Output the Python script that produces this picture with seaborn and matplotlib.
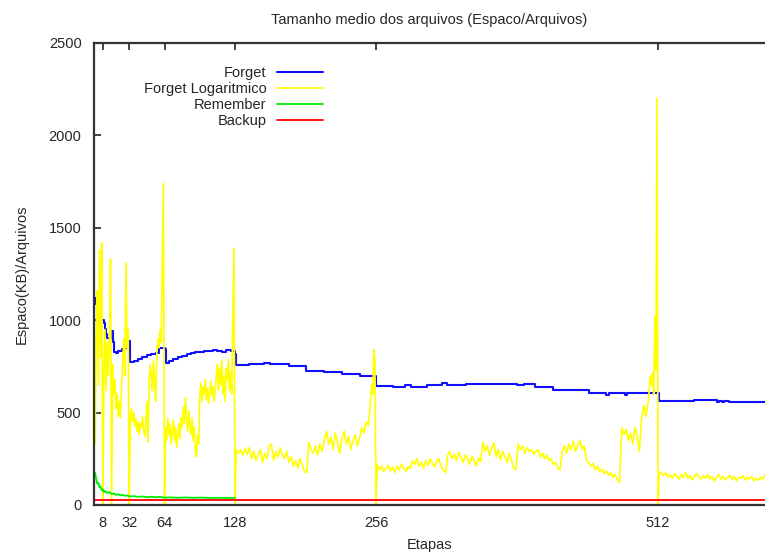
import matplotlib
matplotlib.use("Agg")
import matplotlib.pyplot as plt
import seaborn as sns
import pandas as pd

# ---- data -------------------------------------------------------------
# Forget: step levels (value holds until the next etapa)
forget_etapas = [1, 2, 3, 4, 5, 9, 10, 11, 12, 16, 17, 18, 20, 22, 25, 28, 32, 33,
                 36, 40, 44, 48, 52, 56, 59, 64, 65, 68, 72, 76, 80, 84, 88, 92,
                 96, 100, 104, 108, 112, 116, 120, 124, 128, 129, 141, 154, 160,
                 177, 192, 209, 225, 241, 256, 271, 282, 288, 302, 316, 320, 338,
                 384, 390, 400, 417, 449, 465, 467, 482, 484, 513, 545, 565, 567,
                 570, 572, 576, 611]
forget_valores = [1120, 1090, 1050, 1020, 1000, 985, 950, 925, 905, 940, 880, 830,
                  825, 835, 845, 850, 885, 775, 780, 790, 800, 810, 815, 825, 850,
                  845, 770, 780, 790, 800, 805, 815, 820, 830, 828, 835, 832, 838,
                  835, 830, 838, 832, 815, 757, 763, 770, 763, 752, 725, 720, 709,
                  698, 644, 638, 649, 640, 649, 660, 652, 655, 650, 655, 638, 622,
                  606, 596, 606, 596, 606, 563, 568, 557, 565, 557, 565, 557, 557]

# Forget Logaritmico
log_etapas = (
    list(range(1, 129))
    + list(range(129, 250, 2))
    + [251, 252, 253, 254, 255, 256]
    + list(range(257, 504, 2))
    + [505, 506, 507, 508, 509, 510, 511, 512]
    + list(range(513, 612, 2))
)
log_valores = [
    # 1 - 32
    330, 900, 1160, 650, 1380, 800, 1420, 0,
    700, 950, 620, 880, 700, 900, 1330, 0,
    760, 600, 680, 520, 600, 480, 560, 470, 640, 760, 900, 700, 1310, 850, 950, 0,
    # 33 - 64
    480, 520, 450, 500, 430, 470, 400, 450, 380, 440, 420, 480, 410, 370, 440, 560,
    340, 650, 760, 700, 620, 780, 650, 560, 820, 900, 850, 950, 880, 1300, 1740, 0,
    # 65 - 128
    420, 350, 470, 380, 440, 330, 400, 460, 350, 420, 310, 380, 440, 360, 470, 420,
    530, 440, 580, 470, 400, 510, 430, 380, 470, 350, 420, 300, 260, 380, 330, 600,
    660, 560, 640, 600, 680, 570, 630, 550, 610, 670, 590, 640, 560, 620, 700, 760,
    620, 740, 650, 780, 600, 700, 560, 740, 680, 790, 620, 720, 600, 1000, 1390, 0,
    # 129 - 249 (every 2)
    300, 280, 300, 270, 305, 275, 310,
    250, 290, 240, 270, 300, 230, 280, 250, 320, 330, 240,
    290, 260, 310, 270, 250, 290,
    230, 260, 210, 240, 200, 250, 220, 180, 175,
    340, 300, 280, 320, 270, 330, 290, 350,
    400, 330, 370, 300, 390, 340, 280, 360, 400,
    330, 370, 300, 350, 380, 320, 360,
    420, 390, 450, 430,
    # 251 - 256
    560, 650, 600, 840, 780, 0,
    # 257 - 503 (every 2)
    220, 190, 210, 180, 200, 215, 185, 205, 175, 210, 190, 220, 200, 180, 210, 195,
    240, 220, 250, 210, 230, 200, 240, 215, 250, 225, 205, 235, 250, 210, 190, 175,
    270, 290, 250, 275, 240, 285, 260, 230, 270, 250, 220, 265, 240, 210, 255, 235,
    340, 290, 320, 270, 310, 335, 260, 300, 245,
    290, 260, 230, 280, 240, 200, 190,
    330, 300, 320, 280, 310, 290, 300, 275,
    290, 300, 260, 280, 250, 270, 240, 250, 220, 230, 200, 190,
    290, 320, 280, 330, 300, 345, 290, 320, 350, 300, 320,
    240, 230, 210, 225, 190, 210, 180, 195, 170, 185, 160, 175, 150, 165, 140, 120,
    420, 380, 410, 350, 390, 330, 420, 370, 290,
    470, 540, 480, 560,
    # 505 - 512
    700, 650, 720, 600, 1020, 730, 2200, 0,
    # 513 - 611 (every 2)
    180, 170, 160, 175, 150, 165, 145, 170, 155, 140, 165, 150, 175, 145, 160, 135,
    155, 170, 150, 140, 160, 145, 165, 140, 155, 130, 150, 165, 140, 155, 135, 150,
    160, 140, 155, 130, 150, 145, 160, 135, 150, 140, 155, 130, 145, 135, 150, 140,
    165, 185,
]

# Remember
remember_etapas = [1, 2, 3, 4, 5, 6, 7, 8, 9, 10, 12, 14, 16, 18, 20, 22, 24, 26,
                   28, 30, 32, 36, 40, 44, 48, 52, 56, 60, 64, 70, 76, 82, 90, 98,
                   106, 114, 122, 128]
remember_valores = [175, 140, 115, 120, 95, 100, 80, 85, 70, 75, 65, 70, 60, 62, 55,
                    58, 52, 55, 50, 52, 46, 48, 44, 46, 42, 45, 42, 44, 40, 41, 39,
                    41, 39, 40, 38, 39, 38, 38]

# Backup
backup_etapas = [1, 611]
backup_valores = [28, 28]

xticks = [8, 32, 64, 128, 256, 512]
yticks = [0, 500, 1000, 1500, 2000, 2500]

# ---- figure -------------------------------------------------------------
sns.set_style("white")
plt.rcParams["font.family"] = ["Liberation Sans", "DejaVu Sans"]
plt.rcParams["font.size"] = 10.5

fig = plt.figure(figsize=(7.65, 5.52), dpi=100)
ax = fig.add_axes([94 / 765, 47 / 552, 671 / 765, 462 / 552])

df_forget = pd.DataFrame({"Etapa": forget_etapas, "Valor": forget_valores})
df_log = pd.DataFrame({"Etapa": log_etapas, "Valor": log_valores})
df_rem = pd.DataFrame({"Etapa": remember_etapas, "Valor": remember_valores})
df_bak = pd.DataFrame({"Etapa": backup_etapas, "Valor": backup_valores})

sns.lineplot(data=df_forget, x="Etapa", y="Valor", ax=ax, color="#1010ff",
             lw=1.5, drawstyle="steps-post", label="Forget", estimator=None)
sns.lineplot(data=df_log, x="Etapa", y="Valor", ax=ax, color="#ffff00",
             lw=1.2, label="Forget Logaritmico", estimator=None)
sns.lineplot(data=df_rem, x="Etapa", y="Valor", ax=ax, color="#00ee00",
             lw=1.3, label="Remember", estimator=None)
sns.lineplot(data=df_bak, x="Etapa", y="Valor", ax=ax, color="#ff0000",
             lw=1.3, label="Backup", estimator=None)

ax.set_xlim(0, 609)
ax.set_ylim(0, 2500)
ax.set_xticks(xticks)
ax.set_yticks(yticks)
ax.tick_params(axis="both", direction="in", length=5, width=1.2, color="#222222",
               labelsize=10.5)
ax.tick_params(axis="x", top=True, pad=8)
ax.tick_params(axis="y", left=True, right=False, pad=9)

for side in ("top", "bottom", "left"):
    ax.spines[side].set_linewidth(1.6)
    ax.spines[side].set_color("#333333")
ax.spines["right"].set_visible(False)

ax.set_title("Tamanho medio dos arquivos (Espaco/Arquivos)", fontsize=10.5, pad=14)
ax.set_xlabel("Etapas", fontsize=10.5, labelpad=6)
ax.set_ylabel("Espaco(KB)/Arquivos", fontsize=10.5, labelpad=14)

leg = ax.legend(loc="upper right", bbox_to_anchor=(0.342, 0.951), frameon=False,
                markerfirst=False, handlelength=3.2, handletextpad=0.7,
                labelspacing=0.15, borderpad=0, borderaxespad=0, fontsize=10.5)

fig.savefig("out.png", dpi=100)
